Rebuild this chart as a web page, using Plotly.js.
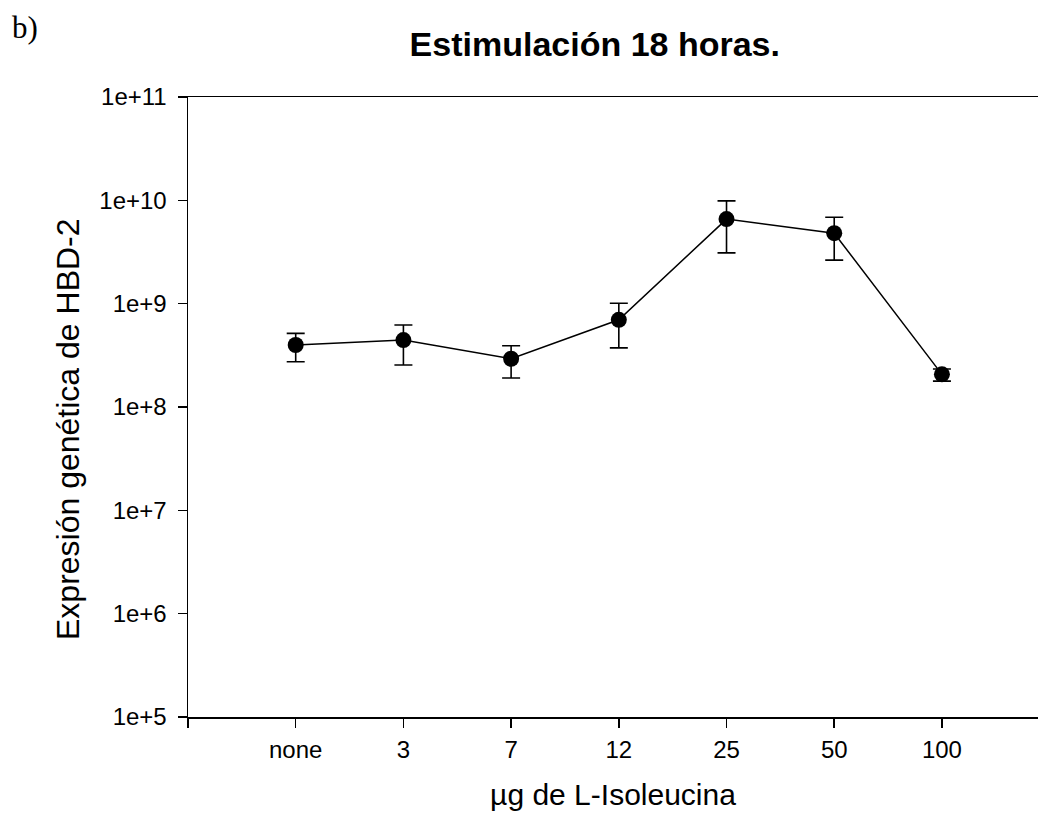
<!DOCTYPE html>
<html>
<head>
<meta charset="utf-8">
<script src="https://cdn.plot.ly/plotly-3.0.1.min.js"></script>
<style>
  html, body { margin: 0; padding: 0; background: #fff; }
  #chart { width: 1038px; height: 816px; }
</style>
</head>
<body>
<div id="chart"></div>
<script>
// Dose groups (µg L-Isoleucine) and HBD-2 expression, 18 h stimulation
const categories = ['none', '3', '7', '12', '25', '50', '100'];
const expression = [3.98e8, 4.44e8, 2.93e8, 6.98e8, 6.58e9, 4.81e9, 2.07e8];
const upperBound = [5.16e8, 6.21e8, 3.92e8, 1.01e9, 9.88e9, 6.87e9, 2.33e8];
const lowerBound = [2.74e8, 2.55e8, 1.91e8, 3.73e8, 3.10e9, 2.64e9, 1.78e8];

const yTickVals = [1e5, 1e6, 1e7, 1e8, 1e9, 1e10, 1e11];
const yTickText = ['1e+5', '1e+6', '1e+7', '1e+8', '1e+9', '1e+10', '1e+11'];

const xPos = categories.map((_, i) => i);
const errPlus = expression.map((v, i) => upperBound[i] - v);
const errMinus = expression.map((v, i) => v - lowerBound[i]);

const trace = {
  x: xPos,
  y: expression,
  type: 'scatter',
  mode: 'lines+markers',
  line: { color: '#000', width: 1.5 },
  marker: { color: '#000', size: 16 },
  error_y: {
    type: 'data',
    symmetric: false,
    array: errPlus,
    arrayminus: errMinus,
    color: '#000',
    thickness: 1.6,
    width: 9
  },
  hoverinfo: 'skip'
};

const font = 'Liberation Sans, Arial, sans-serif';

const layout = {
  width: 1038,
  height: 816,
  margin: { l: 188, r: 0, t: 97, b: 99 },
  paper_bgcolor: '#fff',
  plot_bgcolor: '#fff',
  showlegend: false,
  font: { family: font, color: '#000', size: 24 },
  title: {
    text: '<b>Estimulación 18 horas.</b>',
    font: { family: font, size: 34, color: '#000' },
    xref: 'container', yref: 'container',
    x: 0.573, xanchor: 'center',
    y: 1 - 44 / 816, yanchor: 'middle'
  },
  xaxis: {
    range: [-1, 6.892],
    tickvals: [-1].concat(xPos),
    ticktext: [''].concat(categories),
    showgrid: false,
    zeroline: false,
    showline: true,
    linecolor: '#000',
    linewidth: 1.5,
    mirror: true,
    ticks: 'outside',
    ticklen: 9,
    tickwidth: 1.5,
    tickcolor: '#000',
    ticklabelstandoff: 2,
    tickfont: { family: font, size: 24, color: '#000' },
    title: {
      text: 'µg de L-Isoleucina',
      font: { family: font, size: 30, color: '#000' },
      standoff: 21
    }
  },
  yaxis: {
    type: 'log',
    range: [5, 11],
    tickvals: yTickVals,
    ticktext: yTickText,
    showgrid: false,
    zeroline: false,
    showline: true,
    linecolor: '#000',
    linewidth: 1.5,
    ticks: 'outside',
    ticklen: 9,
    tickwidth: 1.5,
    tickcolor: '#000',
    ticklabelstandoff: 6,
    tickfont: { family: font, size: 24, color: '#000' }
  },
  annotations: [{
    // y-axis title, placed as an annotation so it can sit slightly below centre
    text: 'Expresión genética de HBD-2',
    textangle: -90,
    xref: 'paper', yref: 'paper',
    x: (68 - 188) / 850, y: (717 - 429) / 620,
    xanchor: 'center', yanchor: 'middle',
    showarrow: false,
    font: { family: font, size: 32, color: '#000' }
  }, {
    text: 'b)',
    xref: 'paper', yref: 'paper',
    x: (10 - 188) / 850, y: (717 - 28) / 620,
    xanchor: 'left', yanchor: 'middle',
    showarrow: false,
    font: { family: 'Liberation Serif, Times New Roman, serif', size: 31, color: '#000' }
  }]
};

Plotly.newPlot('chart', [trace], layout, { displayModeBar: false, staticPlot: true });
</script>
</body>
</html>
